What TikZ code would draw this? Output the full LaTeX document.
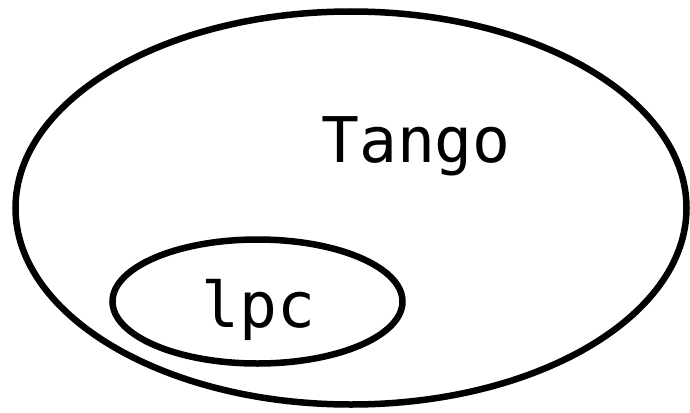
\documentclass[tikz,border=0pt]{standalone}
\usepackage{fontspec}
\setmonofont{DejaVu Sans Mono}
\begin{document}
\begin{tikzpicture}[x=1pt,y=-1pt,
  setline/.style={draw=black,line width=6.5pt},
  setlabel/.style={font=\ttfamily\fontsize{63}{63}\selectfont,inner sep=0pt,anchor=base west}]
  \useasboundingbox (0,0) rectangle (690,412);
  % outer set
  \draw[setline] (351,208) ellipse [x radius=335.5, y radius=196.5];
  \node[setlabel] (tango) at (321,162) {Tango};
  % inner set
  \draw[setline] (257.5,301.5) ellipse [x radius=145, y radius=62];
  \node[setlabel] (lpc) at (201,327) {lpc};
\end{tikzpicture}
\end{document}
